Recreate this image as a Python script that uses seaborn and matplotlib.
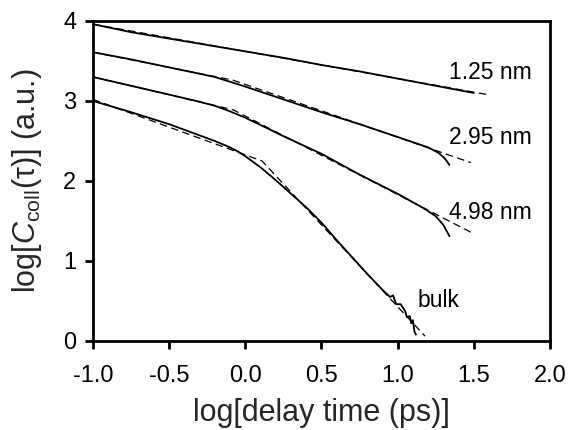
import matplotlib
matplotlib.use("Agg")
import matplotlib.pyplot as plt
import seaborn as sns
import pandas as pd

# ---- data ----
x_125 = [-1.0, -0.75, -0.5, -0.25, 0.0, 0.25, 0.5, 0.75, 1.0, 1.25, 1.5]
y_125 = [3.96, 3.86, 3.78, 3.70, 3.62, 3.54, 3.45, 3.37, 3.28, 3.19, 3.10]

x_295 = [-1.0, -0.75, -0.5, -0.3, -0.2, -0.1, 0.0, 0.25, 0.5, 0.75, 1.0, 1.2, 1.27, 1.31, 1.34]
y_295 = [3.61, 3.52, 3.42, 3.34, 3.30, 3.24, 3.18, 3.02, 2.86, 2.71, 2.55, 2.42, 2.35, 2.28, 2.20]

x_498 = [-1.0, -0.75, -0.5, -0.3, -0.2, -0.1, 0.0, 0.1, 0.25, 0.5, 0.75, 1.0, 1.17, 1.25, 1.30, 1.34]
y_498 = [3.30, 3.19, 3.08, 2.99, 2.94, 2.87, 2.79, 2.70, 2.56, 2.34, 2.08, 1.84, 1.66, 1.56, 1.45, 1.31]

x_bulk = [-1.0, -0.75, -0.5, -0.3, -0.2, -0.1, -0.05, 0.0, 0.05, 0.1, 0.15, 0.2, 0.3, 0.4,
          0.5, 0.6, 0.7, 0.8, 0.9,
          0.95, 0.97, 0.99, 1.02, 1.04, 1.05, 1.06, 1.08, 1.09, 1.10, 1.11, 1.12]
y_bulk = [3.00, 2.86, 2.71, 2.57, 2.50, 2.42, 2.37, 2.31, 2.24, 2.17, 2.09, 2.01, 1.84, 1.67,
          1.48, 1.26, 1.05, 0.84, 0.64,
          0.55, 0.57, 0.46, 0.46, 0.40, 0.37, 0.30, 0.31, 0.22, 0.26, 0.12, 0.08]

# piecewise-linear fits (dashed)
fx_125 = [-1.0, 1.59]
fy_125 = [3.96, 3.08]
fx_295 = [-1.0, -0.08, 1.48]
fy_295 = [3.61, 3.26, 2.23]
fx_498 = [-1.0, -0.08, 1.48]
fy_498 = [3.30, 2.89, 1.36]
fx_bulk = [-1.0, 0.11, 1.18]
fy_bulk = [3.02, 2.25, 0.06]

labels = ["1.25 nm", "2.95 nm", "4.98 nm", "bulk"]
label_x = [1.61, 1.61, 1.61, 1.27]
label_y = [3.35, 2.54, 1.61, 0.51]

x_ticks = [-1.0, -0.5, 0.0, 0.5, 1.0, 1.5, 2.0]
y_ticks = [0, 1, 2, 3, 4]

# ---- style ----
sns.set_style("ticks")
plt.rcParams["font.family"] = ["Liberation Sans", "DejaVu Sans"]
plt.rcParams["axes.unicode_minus"] = False
plt.rcParams["mathtext.fontset"] = "custom"
plt.rcParams["mathtext.rm"] = "Liberation Sans"
plt.rcParams["mathtext.it"] = "Liberation Sans:italic"

fig = plt.figure(figsize=(5.69, 4.30), dpi=100)
ax = fig.add_axes([0.1634, 0.2070, 0.8032, 0.7442])

series = [(x_125, y_125), (x_295, y_295), (x_498, y_498), (x_bulk, y_bulk)]
fits = [(fx_125, fy_125), (fx_295, fy_295), (fx_498, fy_498), (fx_bulk, fy_bulk)]

for (fx, fy) in fits:
    df = pd.DataFrame({"x": fx, "y": fy})
    sns.lineplot(data=df, x="x", y="y", ax=ax, color="black", lw=0.9,
                 sort=False, estimator=None, linestyle=(0, (6, 3.5)))
for (sx, sy) in series:
    df = pd.DataFrame({"x": sx, "y": sy})
    sns.lineplot(data=df, x="x", y="y", ax=ax, color="black", lw=1.3,
                 sort=False, estimator=None)

for lab, lx, ly in zip(labels, label_x, label_y):
    ax.text(lx, ly, lab, fontsize=16.5, ha="center", va="center", color="black")

ax.set_xlim(-1.0, 2.0)
ax.set_ylim(0, 4)
ax.set_xticks(x_ticks)
ax.set_xticklabels([f"{v:.1f}" for v in x_ticks])
ax.set_yticks(y_ticks)
ax.set_yticklabels([str(v) for v in y_ticks])
ax.tick_params(axis="both", which="major", direction="out", length=6, width=2.0,
               labelsize=17, pad=6, colors="black")
ax.tick_params(axis="x", pad=11)
for s in ax.spines.values():
    s.set_linewidth(2.0)
    s.set_color("black")
    s.set_visible(True)

ax.set_xlabel("log[delay time (ps)]", fontsize=22, labelpad=8)
ax.set_ylabel(r"log[$\mathit{C}_{\mathrm{coll}}$(τ)] (a.u.)", fontsize=22, labelpad=14)

fig.savefig("out.png", dpi=100)
